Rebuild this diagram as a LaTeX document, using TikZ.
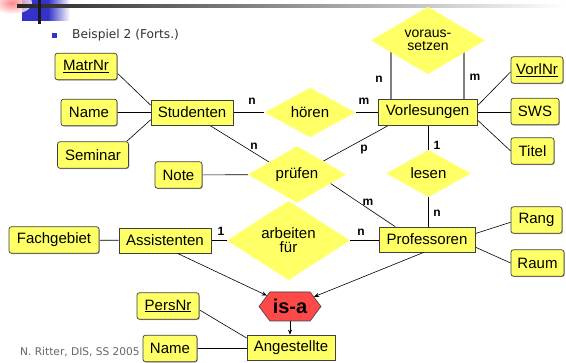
\documentclass[tikz,border=0pt]{standalone}
\usepackage{fontspec}
\setmainfont{Liberation Sans}
\newfontfamily\slidefont{DejaVu Sans}
\usetikzlibrary{shapes.geometric,shapes.symbols,arrows.meta,backgrounds,calc,shadows}
\definecolor{erYellow}{RGB}{255,255,102}
\definecolor{isaRed}{RGB}{255,72,72}
\definecolor{barBlue}{RGB}{51,51,204}
\definecolor{edgeGray}{RGB}{64,64,64}

\begin{document}
\begin{tikzpicture}[x=1pt,y=-1pt,
  base/.style={fill=erYellow, draw=edgeGray, line width=0.7pt, inner sep=0pt,
    font=\fontsize{15}{17}\selectfont,
    drop shadow={shadow xshift=0.8pt, shadow yshift=-0.8pt, fill=black!45, opacity=0.7}},
  entity/.style={base, rectangle, minimum height=25pt},
  attr/.style={base, rectangle, rounded corners=2.5pt, minimum height=26.5pt},
  rel/.style={diamond, fill=erYellow, inner sep=0pt, align=center,
    font=\fontsize{15}{14}\selectfont},
  isa/.style={shape=signal, signal to=west and east, signal pointer angle=106,
    fill=isaRed, draw=edgeGray, line width=0.6pt, inner sep=0pt,
    minimum width=62pt, minimum height=29pt,
    font=\bfseries\fontsize{20}{20}\selectfont},
  card/.style={font=\bfseries\fontsize{12}{12}\selectfont, inner sep=0pt},
  link/.style={draw=black, line width=0.6pt},
  pairlink/.style={draw=black!50, line width=1.2pt},
  isalink/.style={link, -{Stealth[length=5pt,width=4pt]}},
]
\useasboundingbox (0,0) rectangle (566,363);
\begin{scope}[on background layer]
  \fill[white] (0,0) rectangle (566,363);
\end{scope}

% slide header decoration
\fill[barBlue] (22,0) rectangle (48,21);
\shade[left color=barBlue, right color=white] (48,0) rectangle (70,21);
\shade[inner color=red!60!white, outer color=white, opacity=0.8] (12,3) ellipse (20 and 11);
\shade[left color=black!85, middle color=black!60, right color=white] (17,4.8) rectangle (566,7.6);
\fill[black!90] (38,0) rectangle (41,24);

% bullet line and footer
\fill[barBlue] (52,33) rectangle (57,38);
\node[anchor=west, inner sep=0pt, font=\slidefont\fontsize{12.2}{14}\selectfont, text=black!80] (bullet) at (72,35.5) {Beispiel 2 (Forts.)};
\node[anchor=west, inner sep=0pt, font=\slidefont\fontsize{10.6}{12}\selectfont, text=black!60] (footer) at (20,352) {N. Ritter, DIS, SS 2005};

% entities, attributes and relationships
\node[attr, minimum width=62pt] (MatrNr) at (86,66.5) {\underline{MatrNr}};
\node[attr, minimum width=56pt] (NameS) at (89,112.5) {Name};
\node[attr, minimum width=71pt] (Seminar) at (93,155) {Seminar};
\node[entity, minimum width=82pt] (Studenten) at (192,112.5) {Studenten};
\node[attr, minimum width=47pt] (Note) at (178.5,175) {Note};
\node[rel, minimum width=98pt, minimum height=43pt] (pruefen) at (297,174.5) {prüfen};
\node[rel, minimum width=91pt, minimum height=43pt] (hoeren) at (310,112.5) {hören};
\node[entity, minimum width=99pt, minimum height=26pt] (Vorlesungen) at (427.5,112) {Vorlesungen};
\node[rel, minimum width=114pt, minimum height=57pt, font=\fontsize{14}{13}\selectfont] (voraus) at (428,40.5) {voraus-\\setzen};
\node[attr, minimum width=52pt] (VorlNr) at (537,70) {\underline{VorlNr}};
\node[attr, minimum width=48pt] (SWS) at (535,111.5) {SWS};
\node[attr, minimum width=43pt] (Titel) at (532.5,151) {Titel};
\node[rel, minimum width=85pt, minimum height=43pt] (lesen) at (428.5,173.5) {lesen};
\node[entity, minimum width=96pt] (Professoren) at (427,239.5) {Professoren};
\node[attr, minimum width=51pt] (Rang) at (536.5,220) {Rang};
\node[attr, minimum width=53pt] (Raum) at (537.5,263) {Raum};
\node[rel, minimum width=123pt, minimum height=57pt] (arbeiten) at (288.5,240.5) {arbeiten\\für};
\node[entity, minimum width=92pt] (Assistenten) at (165,240.5) {Assistenten};
\node[attr, minimum width=90pt] (Fachgebiet) at (54,240) {Fachgebiet};
\node[isa] (isa) at (290,306.5) {is-a};
\node[entity, minimum width=88pt] (Angestellte) at (291,347.5) {Angestellte};
\node[attr, minimum width=62pt] (PersNr) at (168,306) {\underline{PersNr}};
\node[attr, minimum width=54pt] (NameA) at (170,348.5) {Name};

% connectors, kept behind the shapes
\begin{scope}[on background layer]
  \draw[link] (MatrNr.-12) -- (Studenten.170);
  \draw[link] (NameS) -- (Studenten);
  \draw[link] (Seminar.22) -- (Studenten.190);
  \draw[link] (Studenten) -- (hoeren);
  \draw[link] (hoeren) -- (hoeren -| Vorlesungen);
  \draw[link] (Studenten.-36) -- (pruefen.156);
  \draw[link] (Note) -- (pruefen);
  \draw[link] (pruefen.27) -- (Vorlesungen.199);
  \draw[link] (pruefen.-15) -- (Professoren.158);
  \draw[pairlink] ([xshift=-36.5pt]Vorlesungen.north) -- ++(0,-60);
  \draw[pairlink] ([xshift=36.5pt]Vorlesungen.north) -- ++(0,-60);
  \draw[link] (Vorlesungen.7) -- (VorlNr.184);
  \draw[link] (Vorlesungen) -- (Vorlesungen -| SWS);
  \draw[link] (Vorlesungen.-9) -- (Titel.west);
  \draw[link] (lesen) -- (lesen |- Vorlesungen);
  \draw[link] (lesen) -- (lesen |- Professoren);
  \draw[link] (Professoren.7) -- (Rang.185);
  \draw[link] (Professoren.-9) -- (Raum.west);
  \draw[link] (Fachgebiet) -- (Assistenten);
  \draw[link] (Assistenten) -- (arbeiten);
  \draw[link] (arbeiten) -- (arbeiten -| Professoren);
  \draw[link] (PersNr.-7) -- (Angestellte.168);
  \draw[link] (NameA) -- (NameA -| Angestellte);
\end{scope}
\draw[isalink] (Assistenten.-46) -- (isa);
\draw[isalink] (Professoren.256) -- (isa);
\draw[isalink] (isa.south) -- (isa.south |- Angestellte.north);

% cardinalities
\node[card] (cSh) at (252,101) {n};
\node[card] (cVh) at (364,101) {m};
\node[card] (cSp) at (254,146) {n};
\node[card] (cVp) at (364,150) {p};
\node[card] (cPp) at (368,202) {m};
\node[card] (cVl) at (437,145) {1};
\node[card] (cPl) at (437,213) {n};
\node[card] (cVv1) at (379,79) {n};
\node[card] (cVv2) at (475,77) {m};
\node[card] (cAa) at (221,231) {1};
\node[card] (cPa) at (361,232) {n};
\end{tikzpicture}
\end{document}
